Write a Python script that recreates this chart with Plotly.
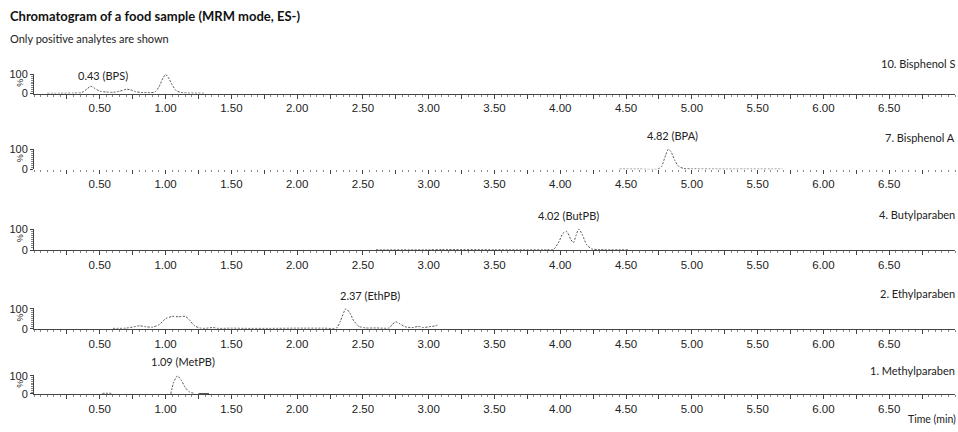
import plotly.graph_objects as go

W, H = 958, 432

# ---------------- data ----------------
panel_names = ["10. Bisphenol S", "7. Bisphenol A", "4. Butylparaben", "2. Ethylparaben", "1. Methylparaben"]
peak_labels = ["0.43 (BPS)", "4.82 (BPA)", "4.02 (ButPB)", "2.37 (EthPB)", "1.09 (MetPB)"]

bps_t = [0.10, 0.20, 0.30, 0.36, 0.40, 0.43, 0.46, 0.50, 0.55, 0.60, 0.65, 0.70, 0.73, 0.77, 0.82, 0.88, 0.92, 0.95, 0.98, 1.00, 1.02, 1.05, 1.08, 1.12, 1.18, 1.25, 1.30]
bps_i = [1, 1, 2, 4, 22, 38, 28, 12, 8, 6, 12, 22, 20, 10, 5, 4, 8, 35, 80, 100, 85, 45, 15, 5, 2, 2, 1]

bpa_t = [4.45, 4.60, 4.74, 4.77, 4.80, 4.82, 4.84, 4.87, 4.90, 4.94, 5.00, 5.20, 5.40, 5.69]
bpa_i = [1, 1, 1, 15, 70, 100, 90, 45, 15, 4, 2, 1, 1, 1]

but_t = [2.60, 3.00, 3.10, 3.50, 3.90, 3.95, 3.99, 4.02, 4.05, 4.08, 4.10, 4.12, 4.14, 4.17, 4.20, 4.24, 4.30, 4.52]
but_i = [1, 1, 2, 1, 1, 3, 40, 80, 88, 50, 35, 70, 100, 70, 25, 5, 2, 1]

eth_t = [0.60, 0.70, 0.76, 0.80, 0.85, 0.90, 0.95, 1.00, 1.05, 1.10, 1.15, 1.18, 1.22, 1.26, 1.30, 1.36, 1.40, 1.50, 1.60, 1.80, 2.00, 2.20, 2.30, 2.33, 2.37, 2.40, 2.43, 2.47, 2.52, 2.60, 2.70, 2.72, 2.75, 2.78, 2.82, 2.88, 2.92, 2.96, 3.00, 3.05, 3.07]
eth_i = [2, 3, 10, 15, 10, 8, 20, 50, 62, 60, 62, 45, 15, 4, 2, 6, 2, 3, 2, 2, 3, 3, 4, 40, 100, 80, 40, 12, 4, 4, 4, 20, 35, 25, 10, 6, 12, 6, 10, 14, 20]

met_t = [0.52, 0.56, 0.60, None, 1.04, 1.06, 1.09, 1.12, 1.15, 1.18, 1.22]
met_i = [3, 4, 3, None, 0, 60, 100, 75, 35, 12, 3]
met_flat_t = [1.25, 1.33]
met_flat_i = [1, 1]

series_t = [bps_t, bpa_t, but_t, eth_t, met_t]
series_i = [bps_i, bpa_i, but_i, eth_i, met_i]

x_major = [0.5, 1.0, 1.5, 2.0, 2.5, 3.0, 3.5, 4.0, 4.5, 5.0, 5.5, 6.0, 6.5]
x_major_text = ["0.50", "1.00", "1.50", "2.00", "2.50", "3.00", "3.50", "4.00", "4.50", "5.00", "5.50", "6.00", "6.50"]

# ---------------- layout geometry (pixels) ----------------
x_left, x_right = 34, 955
panel_px = [(70, 90), (147, 168), (229, 251), (311, 332), (380, 399)]   # (y of 100 %, y of 0 %)
label_px = [(103, 71), (672, 133), (568, 215), (370, 298), (183, 366)]
name_py = [59, 135, 214, 296, 375]

def fy(py):
    return 1 - py / H

def fx(px):
    return px / W

def data_x(px):
    return (px - x_left) / (x_right - x_left) * 7.0

AX_FONT = dict(family="Liberation Sans, Arial", size=11.5, color="#222")
TXT_FONT = "Lato, Open Sans, sans-serif"
LINE_COL = "#444"

fig = go.Figure()
layout = dict(
    width=W, height=H, margin=dict(l=0, r=0, t=0, b=0),
    paper_bgcolor="white", plot_bgcolor="white", showlegend=False,
)
annotations = []

# all tick positions every 0.25 min, labelled only at 0.50 multiples
tick_vals = [i * 0.25 for i in range(1, 28)]
tick_text = []
for v in tick_vals:
    match = [t for m, t in zip(x_major, x_major_text) if abs(m - v) < 1e-9]
    tick_text.append(match[0] if match else "")

for k in range(5):
    idx = "" if k == 0 else str(k + 1)
    xa, ya = "x" + idx, "y" + idx
    fig.add_trace(go.Scatter(
        x=series_t[k], y=series_i[k], mode="lines", xaxis=xa, yaxis=ya,
        line=dict(color="#555", width=1, dash="2px,1.5px", shape="spline", smoothing=0.6),
        connectgaps=False, hoverinfo="skip"))
    top, bot = panel_px[k]
    layout["xaxis" + idx] = dict(
        domain=[fx(x_left), fx(x_right)], anchor=ya, range=[0, 7.0],
        tickmode="array", tickvals=tick_vals, ticktext=tick_text,
        ticks="outside", ticklen=4, tickwidth=1, tickcolor=LINE_COL,
        minor=dict(dtick=0.05, ticks="outside", ticklen=2, tickcolor="#888", showgrid=False),
        showline=(k != 1), linecolor=LINE_COL, linewidth=1,
        showgrid=False, zeroline=False, tickfont=AX_FONT, fixedrange=True,
    )
    layout["yaxis" + idx] = dict(
        domain=[fy(bot), fy(top)], anchor=xa, range=[0, 102],
        tickmode="array", tickvals=[0, 100], ticktext=["0", "100"],
        ticks="outside", ticklen=3, tickcolor=LINE_COL,
        minor=dict(dtick=10, ticks="outside", ticklen=2, tickcolor="#888", showgrid=False),
        showline=True, linecolor=LINE_COL, linewidth=1,
        showgrid=False, zeroline=False, tickfont=dict(family="Liberation Sans, Arial", size=11, color="#222"),
        fixedrange=True,
    )
    # "%" label
    annotations.append(dict(text="%", xref="paper", yref="paper", x=fx(20), y=fy((top + bot) / 2 - 1),
                            xanchor="center", yanchor="middle", borderpad=0,
                            showarrow=False, textangle=-90, font=dict(family="Liberation Sans, Arial", size=9, color="#222")))
    # compound name (right)
    annotations.append(dict(text=panel_names[k], xref="paper", yref="paper", x=fx(957), y=fy(name_py[k]),
                            xanchor="right", yanchor="middle", showarrow=False,
                            font=dict(family=TXT_FONT, size=11, color="#222")))
    # peak label
    lx, ly = label_px[k]
    annotations.append(dict(text=peak_labels[k], xref=xa, yref="paper", x=data_x(lx), y=fy(ly),
                            xanchor="center", yanchor="middle", showarrow=False,
                            font=dict(family=TXT_FONT, size=11, color="#222")))

# flat solid segment in Methylparaben trace
fig.add_trace(go.Scatter(x=met_flat_t, y=met_flat_i, mode="lines", xaxis="x5", yaxis="y5",
                         line=dict(color="#222", width=1.2), hoverinfo="skip"))

annotations += [
    dict(text="<b>Chromatogram of a food sample (MRM mode, ES-)</b>", xref="paper", yref="paper",
         x=fx(8), y=fy(10), xanchor="left", yanchor="middle", showarrow=False,
         font=dict(family=TXT_FONT, size=13, color="#111")),
    dict(text="Only positive analytes are shown", xref="paper", yref="paper",
         x=fx(8), y=fy(33), xanchor="left", yanchor="middle", showarrow=False,
         font=dict(family=TXT_FONT, size=11, color="#222")),
    dict(text="Time (min)", xref="paper", yref="paper",
         x=fx(957), y=0, xanchor="right", yanchor="bottom", showarrow=False, borderpad=0,
         font=dict(family=TXT_FONT, size=10.5, color="#222")),
]
layout["annotations"] = annotations
fig.update_layout(**layout)
fig.write_html("out.html", config={"displayModeBar": False},
               post_script="document.body.style.margin='0';document.body.style.overflow='hidden';")
